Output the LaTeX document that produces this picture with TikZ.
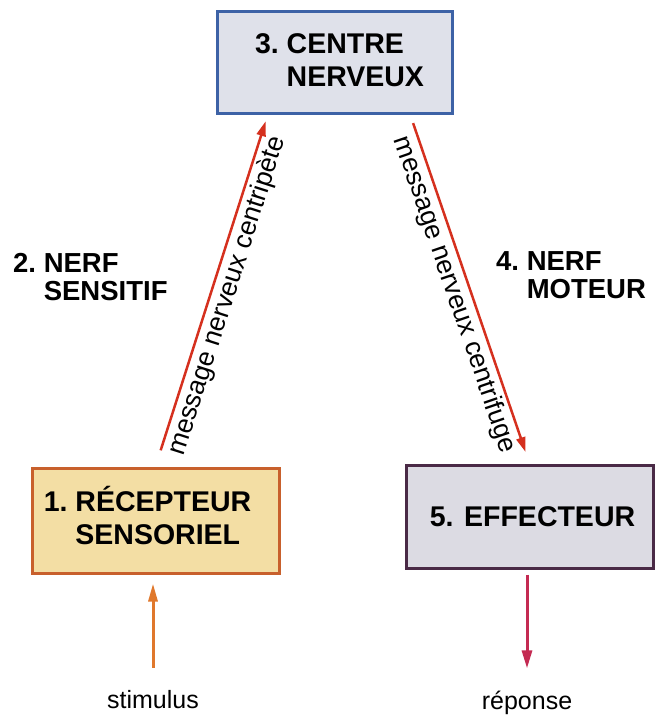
\documentclass[tikz,border=0pt]{standalone}
\usepackage{fontspec}
\setmainfont{Liberation Sans}
\usepackage{xcolor}
\usetikzlibrary{arrows.meta}
\usetikzlibrary{positioning}

\definecolor{centrefill}{HTML}{DFE1EA}
\definecolor{centredraw}{HTML}{3D62A6}
\definecolor{recepfill}{HTML}{F3DEA4}
\definecolor{recepdraw}{HTML}{C8602C}
\definecolor{effecfill}{HTML}{DCDBE3}
\definecolor{effecdraw}{HTML}{4A2A46}
\definecolor{nerfred}{HTML}{D5301E}
\definecolor{stimorange}{HTML}{E0782C}
\definecolor{repcrimson}{HTML}{C42A52}

\newcommand{\numgap}{\ \mbox{}}

\begin{document}
\begin{tikzpicture}[
    x=1pt, y=-1pt,
    box/.style={rectangle, draw, line width=3pt, inner sep=0pt,
      font=\fontsize{28.5}{33}\selectfont\bfseries},
    nerf label/.style={anchor=base west, inner sep=0pt,
      font=\fontsize{27.5}{28}\selectfont\bfseries},
    msg/.style={sloped, below, inner sep=3pt, font=\fontsize{26.5}{30}\selectfont},
    word/.style={anchor=base, inner sep=0pt, font=\fontsize{25}{30}\selectfont},
    nerf/.style={draw=nerfred, line width=2.5pt, -{Triangle[length=15pt, width=9pt]}},
  ]

  \useasboundingbox (0,0) rectangle (660,722);

  \node[box, draw=centredraw, fill=centrefill, minimum width=235, minimum height=102]
    (centre) at (334.5, 63)
    {\hspace*{10pt}\begin{tabular}{@{}l@{}l@{}}3.\numgap&CENTRE\\&NERVEUX\end{tabular}};
  \node[box, draw=recepdraw, fill=recepfill, minimum width=247, minimum height=105]
    (recepteur) at (155.5, 520.5)
    {\begin{tabular}{@{}l@{}l@{}}1.\numgap&RÉCEPTEUR\\&SENSORIEL\end{tabular}\hspace*{16pt}};
  \node[box, draw=effecdraw, fill=effecfill, minimum width=247, minimum height=103]
    (effecteur) at (529.5, 516.5) {\hspace*{6pt}5. EFFECTEUR};

  \node[nerf label] (sensitif) at (13, 272)
    {\begin{tabular}[t]{@{}l@{}l@{}}2.\numgap&NERF\\&SENSITIF\end{tabular}};
  \node[nerf label] (moteur) at (496, 270)
    {\begin{tabular}[t]{@{}l@{}l@{}}4.\numgap&NERF\\&MOTEUR\end{tabular}};

  \node[word] (stimulus) at (153, 708) {stimulus};
  \node[word] (reponse) at (527, 709) {réponse};

  \draw[nerf, shorten <=17pt, shorten >=6pt] (recepteur.north) --
    node[msg] {message nerveux centripète} ([xshift=-67pt]centre.south);
  \draw[nerf, shorten <=8pt, shorten >=12pt] ([xshift=76pt]centre.south) --
    node[msg] {message nerveux centrifuge} (effecteur.north);

  \draw[draw=stimorange, line width=3pt, -{Triangle[length=18pt, width=9pt]},
    shorten <=22pt, shorten >=9pt] (stimulus.north) -- (stimulus.north |- recepteur.south);
  \draw[draw=repcrimson, line width=3pt, -{Triangle[length=18pt, width=10pt]},
    shorten <=5pt, shorten >=22pt] (effecteur.south -| reponse.north) -- (reponse.north);

\end{tikzpicture}
\end{document}
